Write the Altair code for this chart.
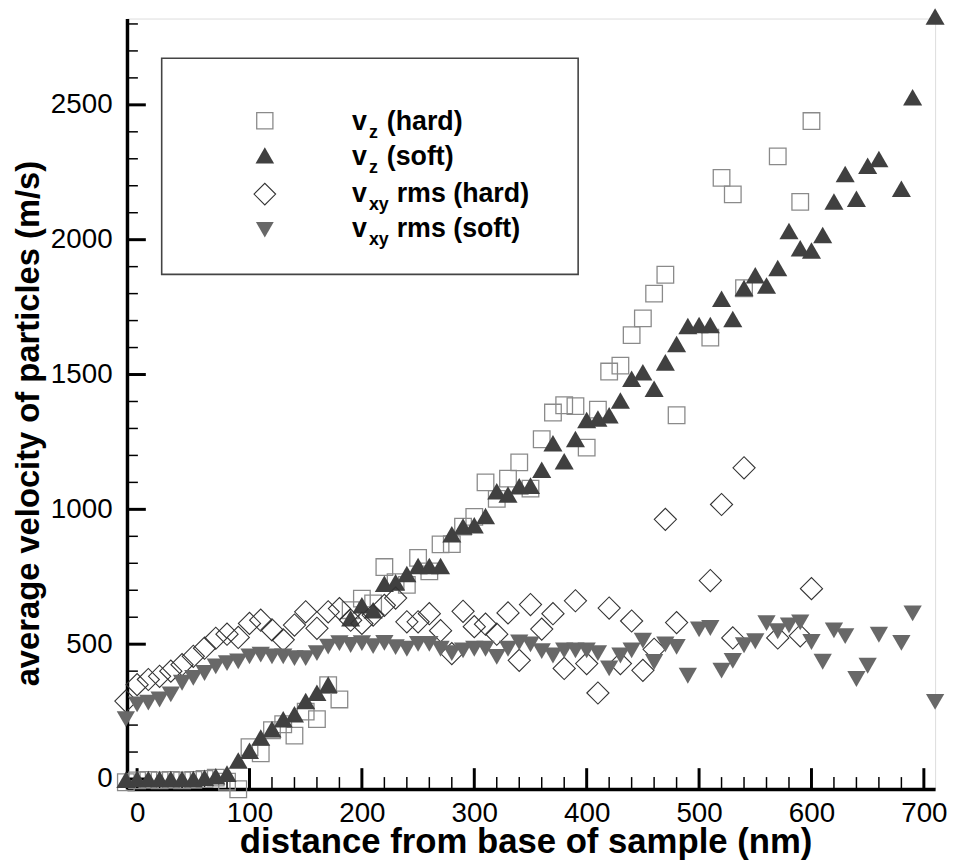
import altair as alt
import pandas as pd

# ---------------- data ----------------
vz_hard_x = [-10, 0, 10, 20, 30, 40, 50, 60, 70, 80, 90, 100, 110, 120, 130, 140, 150, 160, 170, 180,
             190, 200, 210, 220, 230, 240, 250, 260, 270, 280, 290, 300, 310, 320, 330, 340, 350, 360,
             370, 380, 390, 400, 410, 420, 430, 440, 450, 460, 470, 480, 510, 520, 530, 540, 570, 590, 600]
vz_hard_y = [-12, -5, -3, -5, -3, -5, -3, 0, 5, -10, -38, 118, 95, 181, 203, 161, 250, 222, 348, 295,
             626, 669, 651, 786, 730, 720, 820, 770, 870, 871, 936, 972, 1100, 1039, 1114, 1174, 1077, 1260,
             1359, 1386, 1383, 1229, 1370, 1511, 1533, 1646, 1708, 1800, 1870, 1349, 1637, 2229, 2168, 1820,
             2309, 2140, 2440]

vz_soft_x = [-10, 0, 10, 20, 30, 40, 50, 60, 70, 80, 90, 100, 110, 120, 130, 140, 150, 160, 170,
             190, 200, 210, 220, 230, 240, 250, 260, 270, 280, 290, 300, 310, 320, 330, 340, 350, 360,
             370, 380, 390, 400, 410, 420, 430, 440, 450, 460, 470, 480, 490, 500, 510, 520, 530, 540,
             550, 560, 570, 580, 590, 600, 610, 620, 630, 640, 650, 660, 680, 690, 710]
vz_soft_y = [-3, 0, 0, 0, 0, 0, 0, 5, 10, 20, 69, 105, 154, 185, 222, 240, 289, 320, 350,
             596, 644, 626, 724, 730, 760, 790, 790, 790, 908, 936, 941, 975, 1067, 1055, 1086, 1088, 1147,
             1245, 1178, 1261, 1331, 1337, 1349, 1404, 1484, 1508, 1447, 1545, 1613, 1680, 1684, 1684, 1781,
             1706, 1821, 1868, 1830, 1895, 2032, 1968, 1960, 2017, 2142, 2244, 2152, 2274, 2299, 2189, 2528,
             2828]

vxy_hard_x = [-10, 0, 10, 20, 30, 40, 50, 60, 70, 80, 90, 100, 110, 120, 130, 140, 150, 160, 170, 180,
              190, 200, 210, 220, 230, 240, 250, 260, 270, 280, 290, 300, 310, 320, 330, 340, 350, 360,
              370, 380, 390, 400, 410, 420, 430, 440, 450, 460, 470, 480, 510, 520, 530, 540, 570, 590, 600]
vxy_hard_y = [289, 350, 369, 381, 400, 424, 455, 485, 522, 537, 525, 577, 589, 553, 516, 571, 620, 559, 620, 632,
              589, 577, 608, 644, 671, 583, 583, 613, 550, 465, 622, 565, 574, 537, 616, 440, 647, 556,
              613, 410, 661, 428, 319, 634, 428, 586, 403, 481, 963, 580, 736, 1018, 523, 1154, 523, 531, 706]

vxy_soft_x = [-10, 0, 10, 20, 30, 40, 50, 60, 70, 80, 90, 100, 110, 120, 130, 140, 150, 160, 170, 180,
              190, 200, 210, 220, 230, 240, 250, 260, 270, 280, 290, 300, 310, 320, 330, 340, 350, 360,
              370, 380, 390, 400, 410, 420, 430, 440, 450, 460, 470, 480, 490, 500, 510, 520, 530, 540,
              550, 560, 570, 580, 590, 600, 610, 620, 630, 640, 650, 660, 680, 690, 710]
vxy_soft_y = [222, 277, 283, 295, 314, 357, 375, 393, 418, 430, 436, 455, 461, 455, 455, 448, 448, 467, 491, 504,
              497, 504, 493, 505, 489, 483, 501, 501, 483, 467, 477, 483, 483, 453, 483, 507, 499, 474,
              458, 477, 477, 477, 467, 410, 458, 477, 513, 434, 499, 490, 383, 555, 560, 402, 438, 496,
              511, 578, 548, 570, 581, 508, 435, 551, 530, 371, 420, 535, 505, 614, 286]

series_names = ["vz (hard)", "vz (soft)", "vxy rms (hard)", "vxy rms (soft)"]
legend_sub = ["z", "z", "xy", "xy"]
legend_rest = ["(hard)", "(soft)", "rms (hard)", "rms (soft)"]

x_major = [0, 100, 200, 300, 400, 500, 600, 700]
x_minor = [v for v in range(20, 701, 20) if v % 100]
y_major = [0, 500, 1000, 1500, 2000, 2500]
y_minor = [v for v in range(100, 2801, 100) if v % 500]

# ---------------- layout / style ----------------
W, H = 815, 777
FONT = "Liberation Sans"
x_scale = alt.Scale(domain=[-9, 710], nice=False, zero=False)
y_scale = alt.Scale(domain=[-37, 2820], nice=False, zero=False)

x_axis = alt.Axis(values=x_major, format="d", grid=False, ticks=False, tickSize=0, domainColor="black",
                  domainWidth=3.5, labelFont=FONT, labelFontSize=28, labelColor="black",
                  labelPadding=11, labelFlush=False, labelOverlap=False,
                  title="distance from base of sample (nm)", titleFont=FONT, titleFontSize=35,
                  titleFontWeight="bold", titleColor="black", titleX=402, titleY=64,
                  titleAlign="center", titleBaseline="alphabetic")
y_axis = alt.Axis(values=y_major, format="d", grid=False, ticks=False, tickSize=0, domainColor="black",
                  domainWidth=3.5, labelFont=FONT, labelFontSize=28, labelColor="black",
                  labelPadding=15, labelFlush=False, labelOverlap=False,
                  title="average velocity of particles (m/s)", titleFont=FONT, titleFontSize=33,
                  titleFontWeight="bold", titleColor="black", titleX=-82, titleY=408,
                  titleAngle=-90, titleAlign="center", titleBaseline="bottom")


def X(field):
    return alt.X(field, type="quantitative", scale=x_scale, axis=x_axis)


def Y(field):
    return alt.Y(field, type="quantitative", scale=y_scale, axis=y_axis)


def df(xs, ys):
    return pd.DataFrame({"x": xs, "y": ys})


styles = [
    dict(shape="square", filled=False, size=280, stroke="#8a8a8a", strokeWidth=1.3),
    dict(shape="triangle-up", filled=True, size=370, fill="#404040", strokeWidth=0),
    dict(shape="diamond", filled=False, size=500, stroke="#333333", strokeWidth=1.1),
    dict(shape="triangle-down", filled=True, size=340, fill="#686868", strokeWidth=0),
]
data_sets = [(vz_hard_x, vz_hard_y), (vz_soft_x, vz_soft_y), (vxy_hard_x, vxy_hard_y), (vxy_soft_x, vxy_soft_y)]

layers = []

# inward ticks drawn from the tick arrays
layers.append(alt.Chart(pd.DataFrame({"v": y_major})).mark_rule(color="black", strokeWidth=3)
              .encode(y=Y("v"), x=alt.value(0), x2=alt.value(19)))
layers.append(alt.Chart(pd.DataFrame({"v": y_minor})).mark_rule(color="black", strokeWidth=1.5)
              .encode(y=Y("v"), x=alt.value(0), x2=alt.value(11)))
layers.append(alt.Chart(pd.DataFrame({"v": x_major})).mark_rule(color="black", strokeWidth=3)
              .encode(x=X("v"), y=alt.value(H), y2=alt.value(H - 21)))
layers.append(alt.Chart(pd.DataFrame({"v": x_minor})).mark_rule(color="black", strokeWidth=1.5)
              .encode(x=X("v"), y=alt.value(H), y2=alt.value(H - 12)))

for (xs, ys), st in zip(data_sets, styles):
    layers.append(alt.Chart(df(xs, ys)).mark_point(opacity=1, **st).encode(x=X("x"), y=Y("y")))

# legend box
LX0, LX1, LY0, LY1 = 35, 455, 40, 258
layers.append(alt.Chart(pd.DataFrame({"a": [0]})).mark_rect(fill="white", stroke="#444444", strokeWidth=1.6)
              .encode(x=alt.value(LX0), x2=alt.value(LX1), y=alt.value(LY0), y2=alt.value(LY1)))
marker_y = [103, 138, 177, 213]
base_y = [112, 148, 185, 220]
for i, name in enumerate(series_names):
    st = dict(styles[i])
    st["size"] = st["size"] * 0.95
    one = pd.DataFrame({"series": [name]})
    layers.append(alt.Chart(one).mark_point(opacity=1, **st)
                  .encode(x=alt.value(139), y=alt.value(marker_y[i])))
    layers.append(alt.Chart(one).mark_text(text="v", font=FONT, fontSize=27, fontWeight="bold",
                                           align="left", baseline="alphabetic", color="black")
                  .encode(x=alt.value(227), y=alt.value(base_y[i])))
    layers.append(alt.Chart(one).mark_text(text=legend_sub[i], font=FONT, fontSize=18, fontWeight="bold",
                                           align="left", baseline="alphabetic", color="black")
                  .encode(x=alt.value(244), y=alt.value(base_y[i] + 8)))
    rest_x = 262 if legend_sub[i] == "z" else 272
    layers.append(alt.Chart(one).mark_text(text=legend_rest[i], font=FONT, fontSize=27, fontWeight="bold",
                                           align="left", baseline="alphabetic", color="black")
                  .encode(x=alt.value(rest_x), y=alt.value(base_y[i])))

chart = (
    alt.layer(*layers)
    .properties(width=W, height=H,
                padding={"left": 120, "top": 7, "right": 12, "bottom": 72},
                autosize=alt.AutoSizeParams(type="none"))
    .configure_view(stroke=None)
    .configure(background="white")
)

chart.save("out.html", embed_options={"renderer": "svg", "actions": False})
